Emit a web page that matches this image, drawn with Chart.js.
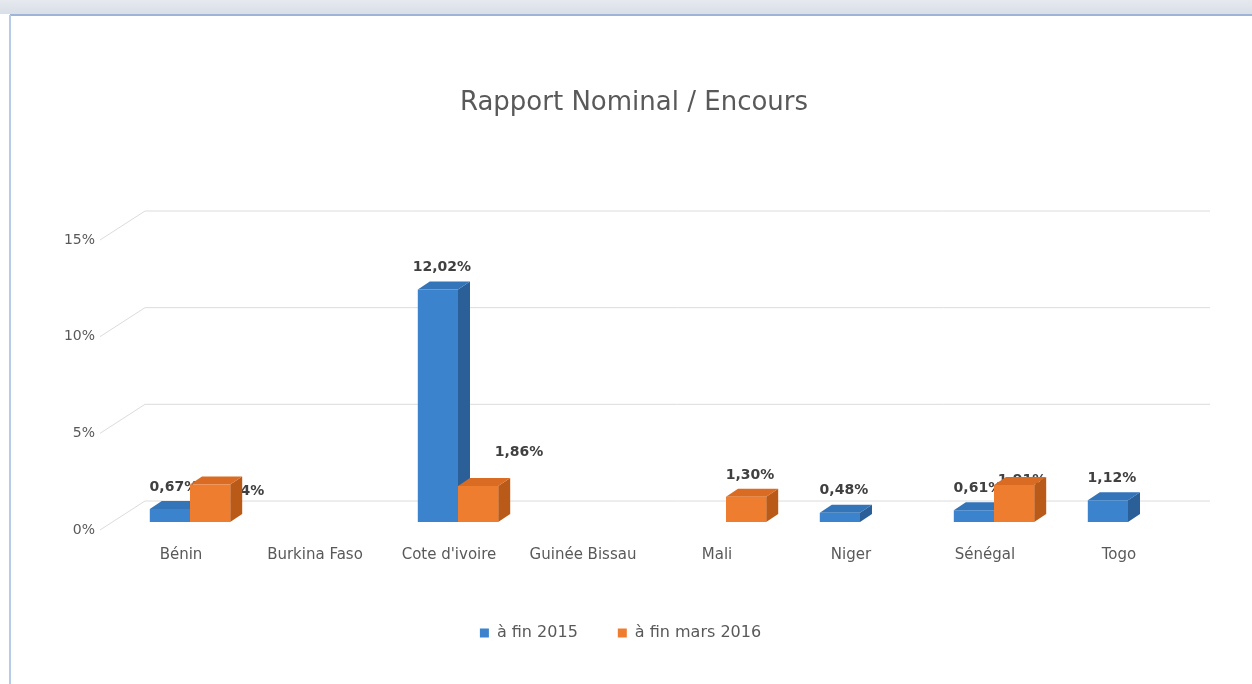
<!DOCTYPE html>
<html><head><meta charset="utf-8">
<script src="https://cdn.jsdelivr.net/npm/chart.js@4"></script>
<style>html,body{margin:0;padding:0;background:#fff;}#wrap{position:relative;width:1252px;height:684px;}</style>
</head><body><div id="wrap"><canvas id="c" width="1252" height="684"></canvas></div>
<script>
const categories = ['Bénin', 'Burkina Faso', "Cote d'ivoire", 'Guinée Bissau', 'Mali', 'Niger', 'Sénégal', 'Togo'];
const serie2015 = [0.67, null, 12.02, null, null, 0.48, 0.61, 1.12];
const serieMars2016 = [1.94, null, 1.86, null, 1.30, null, 1.91, null];
const seriesNames = ['à fin 2015', 'à fin mars 2016'];
const yTicks = [0, 5, 10, 15];
const titleText = 'Rapport Nominal / Encours';
// label nudges (pixels) relative to default label position
const nudge2015 = [[0,0],[0,0],[0,0],[0,0],[0,0],[0,0],[0,0],[0,0]];
const nudge2016 = [[26,29],[0,0],[37,-12],[0,0],[0,0],[0,0],[4,17],[0,0]];

const FONT = "'DejaVu Sans', sans-serif";
const TXT = '#595959';
const DX = 12, DY = -8;
const faceColors = [
  {front:'#3b83cc', side:'#2a5f98', top:'#3474b8'},
  {front:'#ef7d30', side:'#b95a18', top:'#d96c22'}
];
const fmt = v => v.toFixed(2).replace('.', ',') + '%';

const framePlugin = {
  id: 'frame',
  beforeDraw(chart) {
    const c = chart.ctx;
    c.save();
    c.fillStyle = '#ffffff';
    c.fillRect(0, 0, chart.width, chart.height);
    const g = c.createLinearGradient(0, 0, 0, 14);
    g.addColorStop(0, '#e6e9ee'); g.addColorStop(1, '#d9dfe8');
    c.fillStyle = g; c.fillRect(0, 0, chart.width, 14);
    c.strokeStyle = '#9db4d6'; c.lineWidth = 2;
    c.beginPath(); c.moveTo(10, 15); c.lineTo(chart.width, 15); c.stroke();
    c.strokeStyle = '#b8cbe6';
    c.beginPath(); c.moveTo(10, 15); c.lineTo(10, chart.height); c.stroke();
    // title
    c.font = '26px ' + FONT;
    c.fillStyle = TXT; c.textAlign = 'center'; c.textBaseline = 'middle';
    c.fillText(titleText, 634, 103);
    c.restore();
  }
};

const threeD = {
  id: 'threeD',
  beforeDatasetsDraw(chart) {
    const c = chart.ctx, y = chart.scales.y, area = chart.chartArea;
    c.save();
    // back-wall grid lines
    c.strokeStyle = '#dcdcdc'; c.lineWidth = 1;
    yTicks.forEach(v => {
      const fy = y.getPixelForValue(v);
      c.beginPath();
      c.moveTo(area.left - 23, fy + 8);
      c.lineTo(area.left + 22, fy - 21);
      c.lineTo(1210, fy - 21);
      c.stroke();
    });
    // data labels (drawn before faces so bars can hide them)
    c.font = 'bold 14px ' + FONT;
    c.fillStyle = '#404040';
    c.textAlign = 'center'; c.textBaseline = 'middle';
    [nudge2015, nudge2016].forEach((nud, d) => {
      const meta = chart.getDatasetMeta(d);
      const vals = chart.data.datasets[d].data;
      meta.data.forEach((el, i) => {
        if (vals[i] == null) return;
        c.fillText(fmt(vals[i]), el.x + 4 + nud[i][0], el.y - 22 + nud[i][1]);
      });
    });
    // side & top faces
    [0, 1].forEach(d => {
      const meta = chart.getDatasetMeta(d);
      const vals = chart.data.datasets[d].data;
      const col = faceColors[d];
      meta.data.forEach((el, i) => {
        if (vals[i] == null) return;
        const x1 = el.x - el.width / 2, x2 = el.x + el.width / 2, t = el.y, b = el.base;
        c.fillStyle = col.side;
        c.beginPath();
        c.moveTo(x2, t); c.lineTo(x2 + DX, t + DY); c.lineTo(x2 + DX, b + DY); c.lineTo(x2, b);
        c.closePath(); c.fill();
        c.fillStyle = col.top;
        c.beginPath();
        c.moveTo(x1, t); c.lineTo(x1 + DX, t + DY); c.lineTo(x2 + DX, t + DY); c.lineTo(x2, t);
        c.closePath(); c.fill();
      });
    });
    c.restore();
  }
};

new Chart(document.getElementById('c'), {
  type: 'bar',
  data: {
    labels: categories,
    datasets: [
      {label: seriesNames[0], data: serie2015, backgroundColor: faceColors[0].front},
      {label: seriesNames[1], data: serieMars2016, backgroundColor: faceColors[1].front}
    ]
  },
  options: {
    responsive: false,
    animation: false,
    events: [],
    datasets: {bar: {barPercentage: 1, categoryPercentage: 0.6}},
    layout: {padding: {left: 46, right: 57, top: 232, bottom: 33}},
    scales: {
      x: {
        grid: {display: false, drawTicks: false},
        border: {display: false},
        ticks: {font: {family: FONT, size: 15}, color: TXT, padding: 24, labelOffset: -9, maxRotation: 0, autoSkip: false},
        afterFit: s => { s.height = 63; }
      },
      y: {
        min: 0, max: 15,
        grid: {display: false, drawTicks: false},
        border: {display: false},
        ticks: {stepSize: 5, font: {family: FONT, size: 14}, color: TXT, padding: 28, labelOffset: 8,
                callback: v => v + '%'},
        afterFit: s => { s.width = 77; }
      }
    },
    plugins: {
      title: {display: false},
      legend: {position: 'bottom',
               labels: {boxWidth: 9, boxHeight: 9, padding: 40, color: TXT, font: {family: FONT, size: 16}}},
      tooltip: {enabled: false}
    }
  },
  plugins: [framePlugin, threeD]
});
</script>
</body></html>
